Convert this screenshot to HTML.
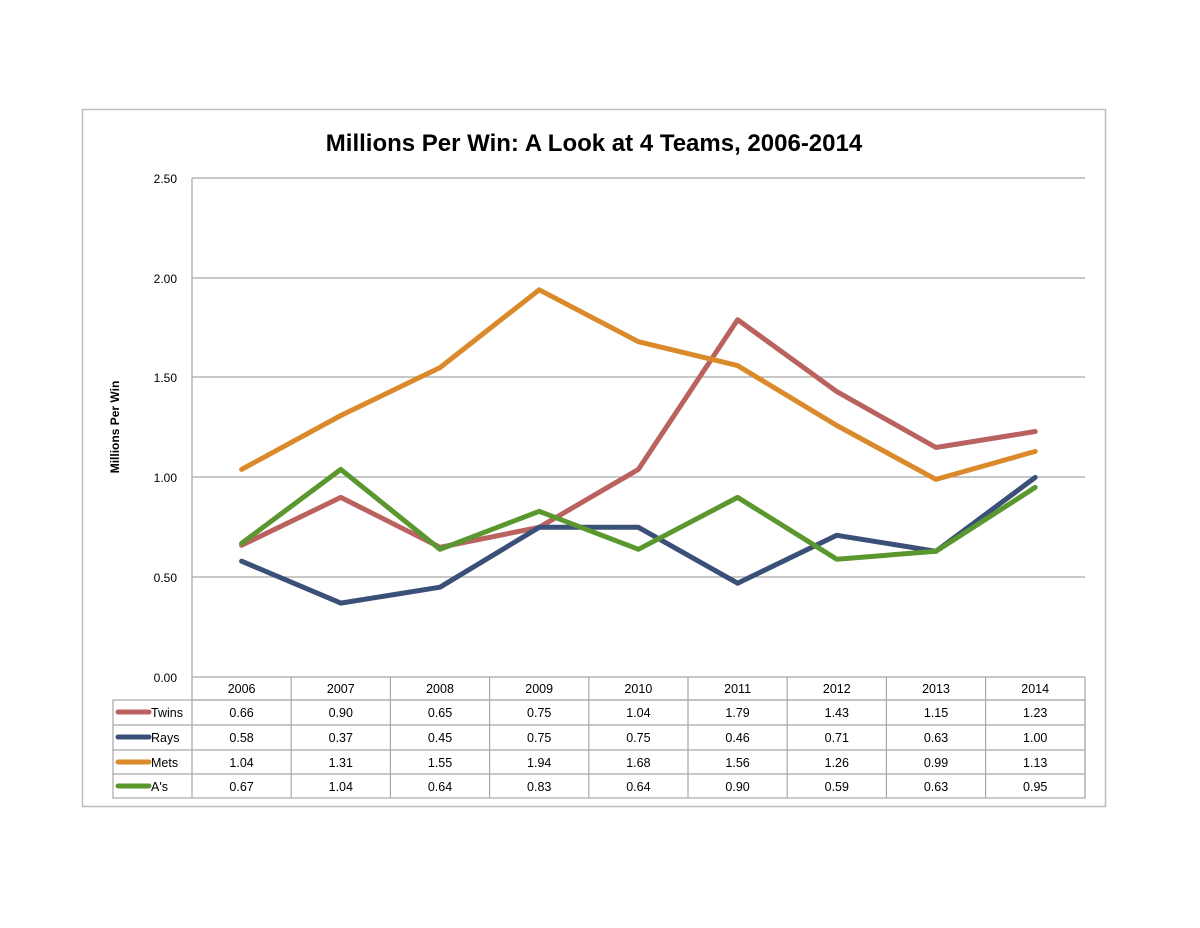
<!DOCTYPE html>
<html><head><meta charset="utf-8"><style>
body{margin:0;background:#fff;}
svg{display:block;font-family:"Liberation Sans",sans-serif;}
</style></head><body>
<svg width="1200" height="928" viewBox="0 0 1200 928" xmlns="http://www.w3.org/2000/svg">
<rect x="82.5" y="109.5" width="1023" height="697" fill="#fff" stroke="#bdbdbd" stroke-width="1.5"/>
<text x="594" y="151" text-anchor="middle" font-size="24" font-weight="bold" fill="#000">Millions Per Win: A Look at 4 Teams, 2006-2014</text>
<g stroke="#a8a8a8" stroke-width="1.2">
<line x1="192" y1="178" x2="1085" y2="178"/>
<line x1="192" y1="278" x2="1085" y2="278"/>
<line x1="192" y1="377" x2="1085" y2="377"/>
<line x1="192" y1="477" x2="1085" y2="477"/>
<line x1="192" y1="577" x2="1085" y2="577"/>
<line x1="192" y1="677" x2="1085" y2="677"/>
<line x1="192" y1="178" x2="192" y2="677"/>
</g>
<g font-size="12" text-anchor="end" fill="#000">
<text x="177" y="183">2.50</text><text x="177" y="283">2.00</text><text x="177" y="382">1.50</text>
<text x="177" y="482">1.00</text><text x="177" y="582">0.50</text><text x="177" y="682">0.00</text>
</g>
<text transform="translate(119,427) rotate(-90)" text-anchor="middle" font-size="12" font-weight="bold">Millions Per Win</text>
<g fill="none" stroke-width="5" stroke-linejoin="round" stroke-linecap="round">
<polyline stroke="#b9625f" points="241.6,545.3 340.8,497.4 440,547.3 539.2,527.3 638.4,469.4 737.6,319.7 836.8,391.6 936,447.5 1035.2,431.5"/>
<polyline stroke="#3a5079" points="241.6,561.2 340.8,603.1 440,587.2 539.2,527.3 638.4,527.3 737.6,583.2 836.8,535.3 936,551.3 1035.2,477.4"/>
<polyline stroke="#db8a2b" points="241.6,469.4 340.8,415.5 440,367.6 539.2,289.8 638.4,341.7 737.6,365.6 836.8,425.5 936,479.4 1035.2,451.4"/>
<polyline stroke="#5a982f" points="241.6,543.3 340.8,469.4 440,549.3 539.2,511.3 638.4,549.3 737.6,497.4 836.8,559.2 936,551.3 1035.2,487.4"/>
</g>
<g stroke="#a8a8a8" stroke-width="1.2" fill="none">
<line x1="192" y1="700" x2="1085" y2="700"/>
<rect x="113" y="700" width="972" height="98"/>
<line x1="113" y1="725" x2="1085" y2="725"/>
<line x1="113" y1="750" x2="1085" y2="750"/>
<line x1="113" y1="774" x2="1085" y2="774"/>
<line x1="192" y1="677" x2="192" y2="798"/>
<line x1="291.2" y1="677" x2="291.2" y2="798"/>
<line x1="390.4" y1="677" x2="390.4" y2="798"/>
<line x1="489.6" y1="677" x2="489.6" y2="798"/>
<line x1="588.8" y1="677" x2="588.8" y2="798"/>
<line x1="688" y1="677" x2="688" y2="798"/>
<line x1="787.2" y1="677" x2="787.2" y2="798"/>
<line x1="886.4" y1="677" x2="886.4" y2="798"/>
<line x1="985.6" y1="677" x2="985.6" y2="798"/>
<line x1="1085" y1="677" x2="1085" y2="798"/>
</g>
<g stroke-width="5" stroke-linecap="round">
<line x1="118" y1="712" x2="149" y2="712" stroke="#b9625f"/>
<line x1="118" y1="737" x2="149" y2="737" stroke="#3a5079"/>
<line x1="118" y1="762" x2="149" y2="762" stroke="#db8a2b"/>
<line x1="118" y1="786" x2="149" y2="786" stroke="#5a982f"/>
</g>
<g font-size="12.5" fill="#000">
<text x="151" y="717">Twins</text><text x="151" y="742">Rays</text><text x="151" y="767">Mets</text><text x="151" y="791">A's</text>
</g>
<g font-size="12.5" text-anchor="middle" fill="#000">
<text y="693"><tspan x="241.6">2006</tspan><tspan x="340.8">2007</tspan><tspan x="440">2008</tspan><tspan x="539.2">2009</tspan><tspan x="638.4">2010</tspan><tspan x="737.6">2011</tspan><tspan x="836.8">2012</tspan><tspan x="936">2013</tspan><tspan x="1035.2">2014</tspan></text>
<text y="717"><tspan x="241.6">0.66</tspan><tspan x="340.8">0.90</tspan><tspan x="440">0.65</tspan><tspan x="539.2">0.75</tspan><tspan x="638.4">1.04</tspan><tspan x="737.6">1.79</tspan><tspan x="836.8">1.43</tspan><tspan x="936">1.15</tspan><tspan x="1035.2">1.23</tspan></text>
<text y="742"><tspan x="241.6">0.58</tspan><tspan x="340.8">0.37</tspan><tspan x="440">0.45</tspan><tspan x="539.2">0.75</tspan><tspan x="638.4">0.75</tspan><tspan x="737.6">0.46</tspan><tspan x="836.8">0.71</tspan><tspan x="936">0.63</tspan><tspan x="1035.2">1.00</tspan></text>
<text y="767"><tspan x="241.6">1.04</tspan><tspan x="340.8">1.31</tspan><tspan x="440">1.55</tspan><tspan x="539.2">1.94</tspan><tspan x="638.4">1.68</tspan><tspan x="737.6">1.56</tspan><tspan x="836.8">1.26</tspan><tspan x="936">0.99</tspan><tspan x="1035.2">1.13</tspan></text>
<text y="791"><tspan x="241.6">0.67</tspan><tspan x="340.8">1.04</tspan><tspan x="440">0.64</tspan><tspan x="539.2">0.83</tspan><tspan x="638.4">0.64</tspan><tspan x="737.6">0.90</tspan><tspan x="836.8">0.59</tspan><tspan x="936">0.63</tspan><tspan x="1035.2">0.95</tspan></text>
</g>
</svg>
</body></html>
